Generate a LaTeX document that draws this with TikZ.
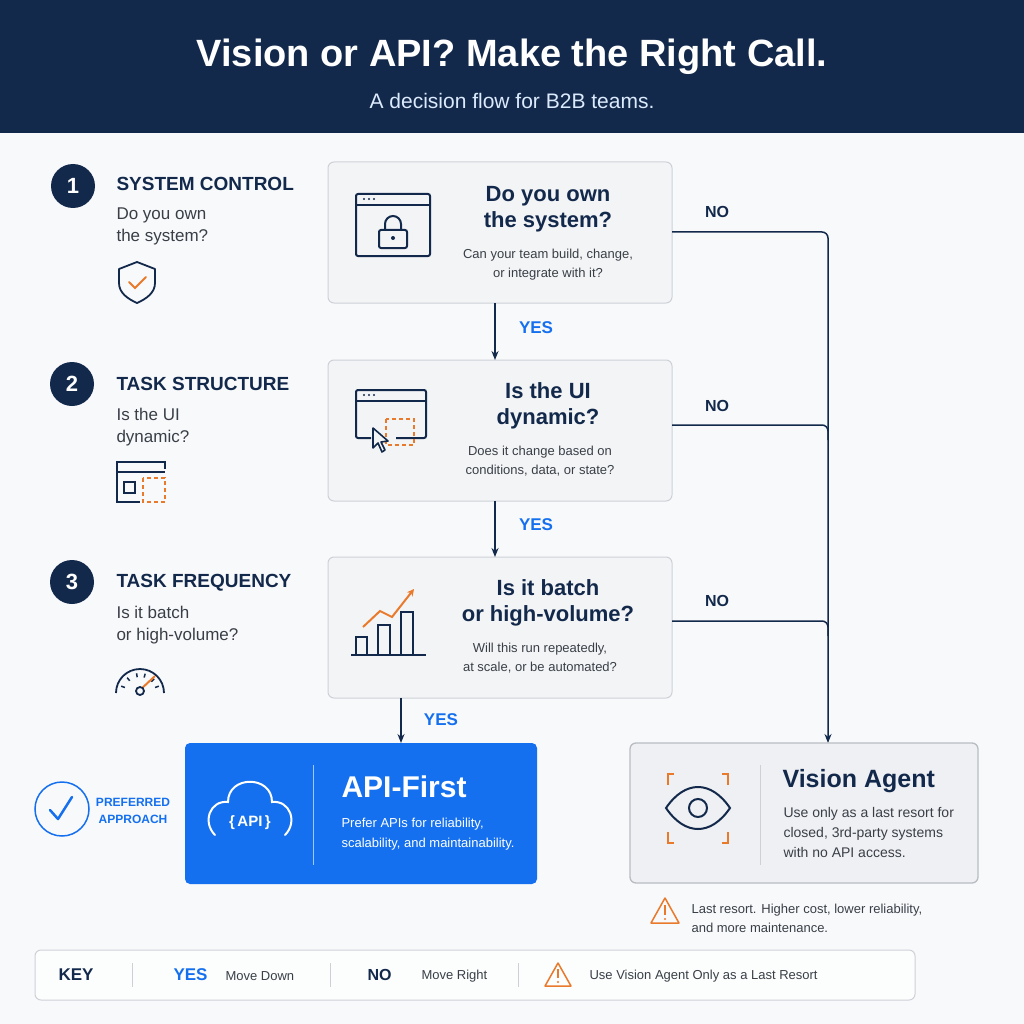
\documentclass[tikz,border=0pt]{standalone}
\usepackage{fontspec}
\setmainfont{Liberation Sans}
\usetikzlibrary{arrows.meta,calc}
\definecolor{navy}{HTML}{13294B}
\definecolor{bblue}{HTML}{1570EF}
\definecolor{orng}{HTML}{EA7A2B}
\definecolor{bgc}{HTML}{F8F9FB}
\definecolor{boxf}{HTML}{F3F4F6}
\definecolor{boxd}{HTML}{CDD1D7}
\definecolor{txt}{HTML}{3A3F47}
\begin{document}
\begin{tikzpicture}[x=1pt,y=-1pt,
  fs/.style={font=\fontsize{#1}{#1}\selectfont},
  fsb/.style={font=\fontsize{#1}{#1}\selectfont\bfseries},
  qbox/.style={draw=boxd,fill=boxf,rounded corners=6pt,line width=1pt},
  num/.style={circle,fill=navy,minimum size=44pt,inner sep=0,text=white,font=\fontsize{22}{22}\selectfont\bfseries},
  sttl/.style={anchor=west,text=navy,font=\fontsize{19}{19}\selectfont\bfseries},
  sq/.style={anchor=north west,text=txt,align=left,font=\fontsize{17}{22}\selectfont},
  bttl/.style={text=navy,align=center,font=\fontsize{22}{26}\selectfont\bfseries},
  bsub/.style={text=txt,align=center,font=\fontsize{13}{19}\selectfont},
  yes/.style={text=bblue,font=\fontsize{17}{17}\selectfont\bfseries},
  no/.style={text=navy,font=\fontsize{16}{16}\selectfont\bfseries},
  flow/.style={draw=navy,line width=1.5pt,-{Stealth[length=9pt,width=7pt]}},
  ic/.style={draw=navy,line width=2pt},
  ico/.style={draw=orng,line width=2pt}]
\useasboundingbox (0,0) rectangle (1024,1024);
\fill[bgc] (0,0) rectangle (1024,1024);
\fill[navy] (0,0) rectangle (1024,133);
\node[text=white,fsb=38] (title) at (512,57) {Vision or API? Make the Right Call.};
\node[text=white!85!bblue,fs=21] (sub) at (512,101) {A decision flow for B2B teams.};

% left steps
\node[num] (n1) at (73,186) {1};
\node[sttl] (s1) at (113,184) {SYSTEM CONTROL};
\node[sq] (q1) at (113,204) {Do you own\\the system?};
\node[num] (n2) at (72,384) {2};
\node[sttl] (s2) at (113,384) {TASK STRUCTURE};
\node[sq] (q2) at (113,405) {Is the UI\\dynamic?};
\node[num] (n3) at (72,582) {3};
\node[sttl] (s3) at (113,583) {TASK FREQUENCY};
\node[sq] (q3) at (113,603) {Is it batch\\or high-volume?};
% shield
\draw[ic,line width=1.8pt,line join=round] (137,262) -- (155,269) -- (155,283) .. controls (155,293) and (146,299) .. (137,303) .. controls (128,299) and (119,293) .. (119,283) -- (119,269) -- cycle;
\draw[ico,line cap=round] (129,282) -- (135,288) -- (146,277);
% layout icon
\draw[ic,line width=1.8pt] (165,469) -- (165,462) -- (117,462) -- (117,502) -- (140,502);
\draw[ic,line width=1.8pt] (117,472) -- (165,472);
\draw[ic,line width=1.6pt] (124,482) rectangle (135,493);
\draw[ico,line width=1.6pt,dash pattern=on 4pt off 3pt] (143,478) rectangle (165,502);
% gauge
\draw[ic,line width=1.8pt] (116,693) arc (180:360:24);
\foreach \a in {-160,-130,-100,-75,-45,-20} \draw[navy,line width=1.5pt] ($(140,693)+(\a:20)$) -- ($(140,693)+(\a:16)$);
\draw[ico] (140,690) -- (155,676);
\draw[ic,line width=1.8pt,fill=bgc] (140,691) circle (4);

% question boxes
\draw[qbox] (328,162) rectangle (672,303);
\draw[qbox] (328,360) rectangle (672,501);
\draw[qbox] (328,557) rectangle (672,698);
\coordinate (b1) at (495,303); \coordinate (b1t) at (495,360);
\node[bttl] (t1) at (548,209) {Do you own\\the system?};
\node[bsub] (u1) at (548,265) {Can your team build, change,\\or integrate with it?};
\node[bttl] (t2) at (548,406) {Is the UI\\dynamic?};
\node[bsub] (u2) at (540,461) {Does it change based on\\conditions, data, or state?};
\node[bttl] (t3) at (548,603) {Is it batch\\or high-volume?};
\node[bsub] (u3) at (540,658) {Will this run repeatedly,\\at scale, or be automated?};
% icon1 lock window
\draw[ic,rounded corners=2pt] (356,194) rectangle (430,256);
\draw[ic] (356,205) -- (430,205);
\foreach \x in {364,369,374} \fill[navy] (\x,199) circle (1.2);
\draw[ic,rounded corners=2pt] (379,230) rectangle (407,248);
\draw[ic] (385,230) -- (385,224) arc (180:360:8) -- (401,230);
\fill[navy] (393,238) circle (2);
% icon2
\draw[ic,rounded corners=2pt] (371,438) -- (356,438) -- (356,390) -- (426,390) -- (426,438) -- (396,438);
\draw[ic] (356,401) -- (426,401);
\foreach \x in {364,369,374} \fill[navy] (\x,395) circle (1.2);
\draw[ico,line width=1.8pt,dash pattern=on 4pt off 3pt] (386,419) rectangle (414,445);
\draw[ic,line width=1.6pt,fill=boxf,line join=round] (373,428) -- (373,448) -- (378,443) -- (382,452) -- (385,450) -- (381,442) -- (388,441) -- cycle;
% icon3 chart
\draw[ic] (351,655) -- (426,655);
\draw[ic] (356,655) -- (356,637) -- (367,637) -- (367,655);
\draw[ic] (378,655) -- (378,625) -- (390,625) -- (390,655);
\draw[ic] (401,655) -- (401,612) -- (413,612) -- (413,655);
\draw[ico,-{Stealth[length=7pt,width=7pt]}] (363,627) -- (380,611) -- (392,617) -- (414,589);

% flow
\draw[flow] (b1) -- (b1t);
\node[yes] (y1) at (536,328) {YES};
\coordinate (b2) at (495,501); \coordinate (b2t) at (495,557);
\draw[flow] (b2) -- (b2t);
\node[yes] (y2) at (536,525) {YES};
\coordinate (b3) at (401,698); \coordinate (b3t) at (401,743);
\draw[flow] (b3) -- (b3t);
\node[yes] (y3) at (441,720) {YES};
\coordinate (r1) at (672,232); \coordinate (r2) at (672,425); \coordinate (r3) at (672,621);
\coordinate (vt) at (828,743);
\draw[flow,rounded corners=6pt] (r1) -- (828,232) -- (vt);
\draw[navy,line width=1.5pt,rounded corners=6pt] (r2) -- (828,425) -- (828,440);
\draw[navy,line width=1.5pt,rounded corners=6pt] (r3) -- (828,621) -- (828,636);
\node[no] (no1) at (717,212) {NO};
\node[no] (no2) at (717,406) {NO};
\node[no] (no3) at (717,601) {NO};

% API box
\fill[bblue,rounded corners=5pt] (185,743) rectangle (537,884);
\draw[white!60!bblue,line width=1pt] (313,765) -- (313,865);
\draw[white,line width=2pt,line cap=round] (215,835) .. controls (202,822) and (210,800) .. (228,802) .. controls (228,775) and (272,775) .. (272,802) .. controls (290,800) and (298,822) .. (285,835);
\node[text=white,fsb=15] (apit) at (250,823) {\{\,API\,\}};
\node[anchor=west,text=white,fsb=30] (af) at (338,787) {API-First};
\node[anchor=north west,text=white,align=left,font=\fontsize{13}{20}\selectfont] (ad) at (338,815) {Prefer APIs for reliability,\\scalability, and maintainability.};
\draw[bblue,line width=1.5pt] (62,809) circle (27);
\draw[bblue,line width=2.5pt,line cap=round,line join=round] (50,810) -- (58,819) -- (72,797);
\node[text=bblue,align=center,font=\fontsize{12}{17}\selectfont\bfseries] (pa) at (133,811) {PREFERRED\\APPROACH};

% Vision box
\draw[draw=boxd!90!black,fill=boxf!90!boxd,rounded corners=6pt,line width=1.3pt] (630,743) rectangle (978,883);
\draw[boxd,line width=1pt] (760,765) -- (760,865);
\draw[ico] (668,785) -- (668,774) -- (674,774);
\draw[ico] (722,774) -- (728,774) -- (728,785);
\draw[ico] (668,832) -- (668,843) -- (674,843);
\draw[ico] (722,843) -- (728,843) -- (728,832);
\draw[ic] (666,808) .. controls (685,780) and (711,780) .. (730,808) .. controls (711,836) and (685,836) .. (666,808) -- cycle;
\draw[ic] (698,808) circle (9);
\node[anchor=west,text=navy,fsb=25] (vt1) at (779,781) {Vision Agent};
\node[anchor=north west,text=txt,align=left,font=\fontsize{14}{20}\selectfont] (vd) at (780,804) {Use only as a last resort for\\closed, 3rd-party systems\\with no API access.};
\draw[orng,line width=1.5pt,line join=round] (665,898) -- (679,923) -- (651,923) -- cycle;
\draw[orng,line width=1.6pt] (665,905) -- (665,915);
\fill[orng] (665,919) circle (1.2);
\node[anchor=north west,text=txt,align=left,font=\fontsize{13}{19}\selectfont] (lr) at (688,901) {Last resort. Higher cost, lower reliability,\\and more maintenance.};

% key
\draw[draw=boxd,fill=white!60!bgc,rounded corners=6pt,line width=1pt] (35,950) rectangle (915,1000);
\foreach \x in {132,330,518} \draw[boxd,line width=1pt] (\x,963) -- (\x,987);
\node[anchor=west,text=navy,fsb=17] (k) at (55,975) {KEY};
\node[anchor=west,yes] (ky) at (170,975) {YES};
\node[anchor=west,text=txt,fs=13] (kyd) at (222,976) {Move Down};
\node[anchor=west,no] (kn) at (364,975) {NO};
\node[anchor=west,text=txt,fs=13] (knd) at (418,976) {Move Right};
\draw[orng,line width=1.5pt,line join=round] (558,963) -- (571,986) -- (545,986) -- cycle;
\draw[orng,line width=1.5pt] (558,969) -- (558,978);
\fill[orng] (558,982) circle (1.1);
\node[anchor=west,text=txt,fs=13] (kw) at (586,976) {Use Vision Agent Only as a Last Resort};
\end{tikzpicture}
\end{document}
